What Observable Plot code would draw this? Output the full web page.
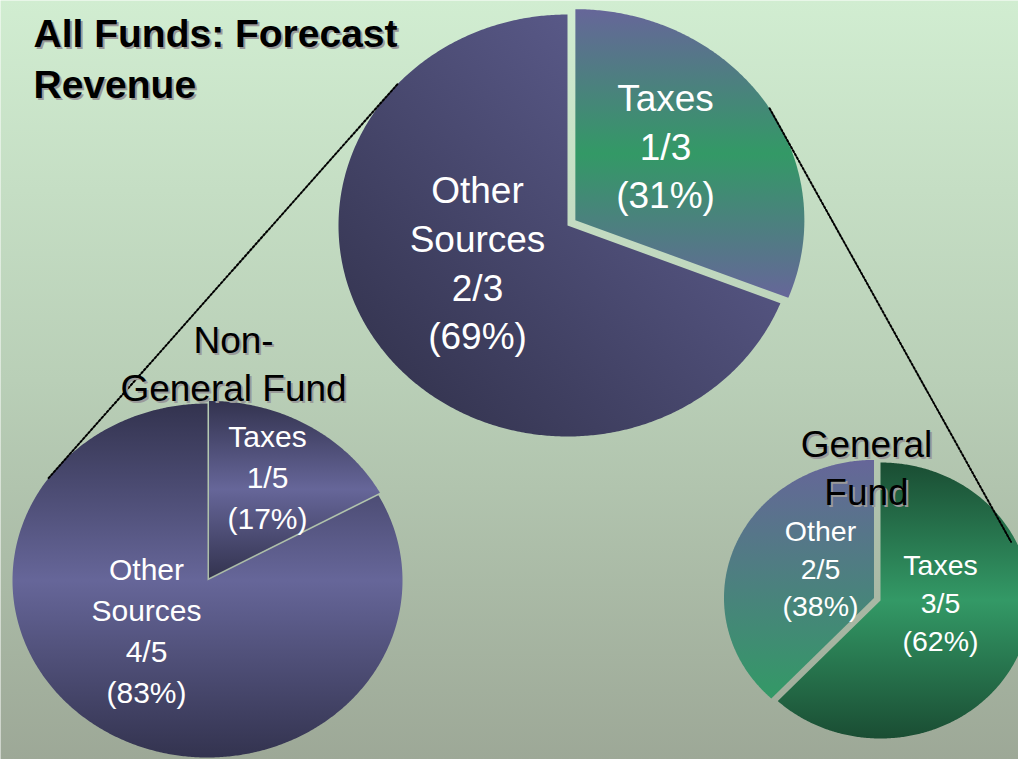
<!DOCTYPE html>
<html><head><meta charset="utf-8">
<script src="https://cdn.jsdelivr.net/npm/d3@7"></script>
<script src="https://cdn.jsdelivr.net/npm/@observablehq/plot@0.6"></script>
<style>html,body{margin:0;padding:0;background:#fff;overflow:hidden} svg{display:block}</style>
</head><body><div id="chart"></div>
<script>
// ---- data ----
const funds = ["All Funds", "Non-General Fund", "General Fund"];
const fundTitles = ["All Funds: Forecast\nRevenue", "Non-\nGeneral Fund", "General\nFund"];
const categories = ["Taxes", "Other"];
const taxesPct = [31, 17, 62];
const otherPct = [69, 83, 38];
const taxesFraction = ["1/3", "1/5", "3/5"];
const otherFraction = ["2/3", "4/5", "2/5"];
const otherNames = ["Other\nSources", "Other\nSources", "Other"];

// ---- layout ----
const W = 1018, H = 759;
const FONT = "'Liberation Sans', Arial, Helvetica, sans-serif";
const layout = [
  {cx: 567, cy: 225, rx: 229, ry: 211, explode: [9.5, 0], font: 37, lh: 1.32,
   labelPos: [[665, 143.5], [477, 260]], fills: ["url(#gTopTax)", "url(#gTopOther)"],
   titlePos: [33, 55.5], titleSize: 39, titleWeight: "bold", titleLh: 1.3, titleAnchor: "start"},
  {cx: 207, cy: 580, rx: 195, ry: 177, explode: [3, 0], font: 30, lh: 1.37,
   labelPos: [[267, 474], [146, 628]], fills: ["url(#gNavyT)", "url(#gNavyO)"],
   titlePos: [233, 361], titleSize: 37, titleWeight: "normal", titleLh: 1.3, titleAnchor: "middle"},
  {cx: 880, cy: 600, rx: 150, ry: 138, explode: [0, 7], font: 28.5, lh: 1.32,
   labelPos: [[940, 600.5], [820, 566]], fills: ["url(#gGreenTax)", "url(#gGreenOther)"],
   titlePos: [866, 465], titleSize: 37, titleWeight: "normal", titleLh: 1.3, titleAnchor: "middle"}
];
// connector angles (degrees, clockwise from 12 o'clock): [top pie angle, sub pie index, sub pie angle]
const connectors = [[312, 1, 305], [58, 2, 66]];

const pie = d3.pie().sort(null).value(d => d);
const slicePts = [];
const labels = [];
const arcsAll = [];

funds.forEach((f, i) => {
  const L = layout[i];
  const arcs = pie([taxesPct[i], otherPct[i]]);
  arcsAll.push(arcs);
  arcs.forEach((a, k) => {
    const mid = (a.startAngle + a.endAngle) / 2;
    const ox = L.explode[k] * Math.sin(mid), oy = -L.explode[k] * Math.cos(mid);
    const id = f + "|" + categories[k];
    slicePts.push({id, i, k, x: L.cx + ox, y: L.cy + oy});
    const n = Math.max(8, Math.ceil((a.endAngle - a.startAngle) / (Math.PI / 360)));
    for (let s = 0; s <= n; s++) {
      const t = a.startAngle + (a.endAngle - a.startAngle) * s / n;
      slicePts.push({id, i, k, x: L.cx + ox + L.rx * Math.sin(t), y: L.cy + oy - L.ry * Math.cos(t)});
    }
    const name = k === 0 ? categories[0] : otherNames[i];
    const frac = k === 0 ? taxesFraction[i] : otherFraction[i];
    const pct = k === 0 ? taxesPct[i] : otherPct[i];
    labels.push({i, k, x: L.labelPos[k][0], y: L.labelPos[k][1], text: `${name}\n${frac}\n(${pct}%)`});
  });
});

function onEllipse(i, deg, k) {
  const L = layout[i];
  const a = arcsAll[i][k];
  const mid = (a.startAngle + a.endAngle) / 2;
  const ox = L.explode[k] * Math.sin(mid), oy = -L.explode[k] * Math.cos(mid);
  const t = deg * Math.PI / 180;
  return {x: L.cx + ox + L.rx * Math.sin(t), y: L.cy + oy - L.ry * Math.cos(t)};
}
const connPts = [];
connectors.forEach(([a0, j, a1], c) => {
  const k0 = a0 < 111 ? 0 : 1;
  connPts.push({c, ...onEllipse(0, a0, k0)});
  connPts.push({c, ...onEllipse(j, a1, 1)});
});

const marks = [Plot.frame({fill: "url(#bg)", stroke: "none"})];
funds.forEach((f, i) => {
  categories.forEach((c, k) => {
    marks.push(Plot.line(slicePts.filter(d => d.i === i && d.k === k),
      {x: "x", y: "y", fill: layout[i].fills[k], stroke: "none"}));
  });
});
marks.push(Plot.line(connPts, {x: "x", y: "y", z: "c", stroke: "#000", strokeWidth: 2, strokeDasharray: "2 2"}));
layout.forEach((L, i) => {
  const lab = labels.filter(d => d.i === i);
  marks.push(Plot.text(lab, {x: "x", y: "y", text: "text", fill: "#fff", fontSize: L.font,
    fontFamily: FONT, lineHeight: L.lh, lineAnchor: "middle", textAnchor: "middle"}));
});
layout.forEach((L, i) => {
  const t = [{x: L.titlePos[0], y: L.titlePos[1], text: fundTitles[i]}];
  const opts = {x: "x", y: "y", text: "text", fontSize: L.titleSize, fontWeight: L.titleWeight,
    fontFamily: FONT, lineHeight: L.titleLh, lineAnchor: "middle", textAnchor: L.titleAnchor};
  marks.push(Plot.text(t, {...opts, fill: "#9a9a9a", dx: 2, dy: 2}));
  marks.push(Plot.text(t, {...opts, fill: "#000"}));
});

const svg = Plot.plot({
  width: W, height: H, margin: 0,
  x: {domain: [0, W], range: [0, W], axis: null},
  y: {domain: [0, H], range: [0, H], axis: null},
  style: {background: "#fff", fontFamily: FONT},
  marks
});

const defs = `
<defs>
  <linearGradient id="bg" x1="0" y1="0" x2="0" y2="1">
    <stop offset="0" stop-color="#d1edd1"/>
    <stop offset="0.5" stop-color="#b9cfb7"/>
    <stop offset="1" stop-color="#9da897"/>
  </linearGradient>
  <linearGradient id="gTopOther" x1="0" y1="1" x2="1" y2="0">
    <stop offset="0" stop-color="#2e2e46"/>
    <stop offset="1" stop-color="#66669c"/>
  </linearGradient>
  <linearGradient id="gTopTax" x1="0" y1="0" x2="0" y2="1">
    <stop offset="0" stop-color="#666699"/>
    <stop offset="0.5" stop-color="#339966"/>
    <stop offset="1" stop-color="#666699"/>
  </linearGradient>
  <linearGradient id="gNavyT" x1="0" y1="0" x2="0" y2="1">
    <stop offset="0" stop-color="#33334f"/>
    <stop offset="0.5" stop-color="#666699"/>
    <stop offset="1" stop-color="#33334f"/>
  </linearGradient>
  <linearGradient id="gNavyO" x1="0" y1="0" x2="0" y2="1">
    <stop offset="0" stop-color="#33334f"/>
    <stop offset="0.5" stop-color="#666699"/>
    <stop offset="1" stop-color="#33334f"/>
  </linearGradient>
  <linearGradient id="gGreenTax" x1="0" y1="0" x2="0" y2="1">
    <stop offset="0" stop-color="#1a4d33"/>
    <stop offset="0.5" stop-color="#339966"/>
    <stop offset="1" stop-color="#1a4d33"/>
  </linearGradient>
  <linearGradient id="gGreenOther" x1="0" y1="0" x2="0" y2="1">
    <stop offset="0" stop-color="#666699"/>
    <stop offset="1" stop-color="#339966"/>
  </linearGradient>
</defs>`;
const tmp = new DOMParser().parseFromString(`<svg xmlns="http://www.w3.org/2000/svg">${defs}</svg>`, "image/svg+xml");
svg.insertBefore(document.importNode(tmp.documentElement.firstElementChild, true), svg.firstChild);
document.getElementById("chart").appendChild(svg);
</script>
</body></html>
